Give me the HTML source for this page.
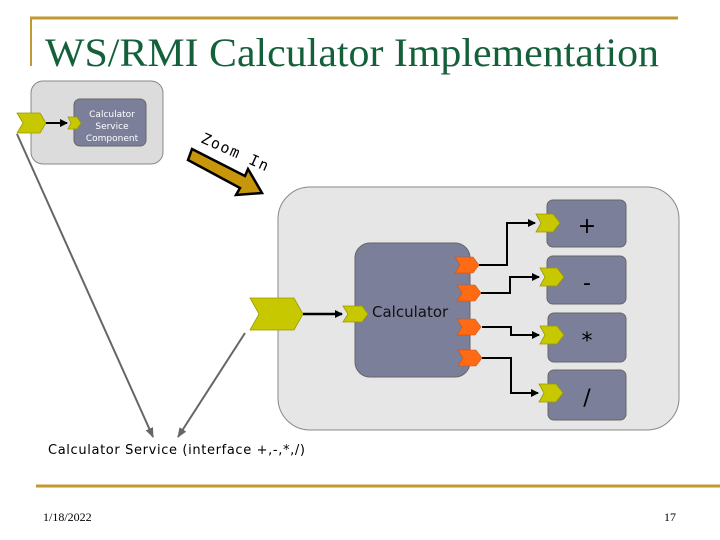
<!DOCTYPE html>
<html><head><meta charset="utf-8"><style>
html,body{margin:0;padding:0;background:#fff;}
svg{display:block;}
</style></head><body>
<svg width="720" height="540" viewBox="0 0 720 540" xmlns="http://www.w3.org/2000/svg">
<defs>
<marker id="ab" markerWidth="8" markerHeight="8" refX="7" refY="4" orient="auto" markerUnits="userSpaceOnUse"><path d="M0,0 L8,4 L0,8 z" fill="#000"/></marker>
<marker id="ag" markerWidth="10" markerHeight="10" refX="9" refY="5" orient="auto" markerUnits="userSpaceOnUse"><path d="M0,1 L10,5 L0,9 z" fill="#666"/></marker>
</defs>
<line x1="30" y1="18" x2="678" y2="18" stroke="#c09a30" stroke-width="3"/>
<line x1="31" y1="17" x2="31" y2="66" stroke="#c09a30" stroke-width="2"/>
<line x1="36" y1="486" x2="720" y2="486" stroke="#c09a30" stroke-width="3"/>
<text x="45" y="66" font-family="Liberation Serif, serif" font-size="40" fill="#14603a" textLength="614" lengthAdjust="spacingAndGlyphs">WS/RMI Calculator Implementation</text>
<text x="43" y="521" font-family="Liberation Serif, serif" font-size="12" fill="#000">1/18/2022</text>
<text x="664" y="521" font-family="Liberation Serif, serif" font-size="12" fill="#000">17</text>

<rect x="31" y="81" width="132" height="83" rx="12" fill="#dcdcdc" stroke="#888" stroke-width="1"/>
<rect x="74" y="99" width="72" height="47" rx="6" fill="#7c7f9a" stroke="#666"/>
<text font-family="DejaVu Sans, sans-serif" font-size="9" fill="#fff" text-anchor="middle"><tspan x="112" y="117">Calculator</tspan><tspan x="112" y="129">Service</tspan><tspan x="112" y="141">Component</tspan></text>
<polygon points="17,113 40,113 46,123 40,133 17,133 23,123" fill="#c8c800" stroke="#999900" stroke-width="0.8"/>
<line x1="46" y1="123" x2="67" y2="123" stroke="#000" stroke-width="2" marker-end="url(#ab)"/>
<polygon points="68,117 77,117 81,123 77,129 68,129 71,123" fill="#c8c800" stroke="#999900" stroke-width="0.8"/>

<text x="200" y="142" font-family="DejaVu Sans Mono, monospace" font-size="15" fill="#000" transform="rotate(24 200 142)" textLength="72">Zoom In</text>
<polygon points="192,149 245,176 248,169 262,193 236,195 240,188 188,160" fill="#c8960a" stroke="#000" stroke-width="2.5" stroke-linejoin="miter"/>

<rect x="278" y="187" width="401" height="243" rx="32" fill="#e6e6e6" stroke="#888" stroke-width="1"/>
<rect x="355" y="243" width="115" height="134" rx="15" fill="#7c7f9a" stroke="#666"/>
<text x="372" y="317" font-family="DejaVu Sans, sans-serif" font-size="15" fill="#111">Calculator</text>
<polygon points="250,298 294,298 303,314 294,330 250,330 259,314" fill="#c8c800" stroke="#999900" stroke-width="0.8"/>
<line x1="303" y1="314" x2="342" y2="314" stroke="#000" stroke-width="2.5" marker-end="url(#ab)"/>
<polygon points="343,306 362,306 368,314 362,322 343,322 348,314" fill="#c8c800" stroke="#999900" stroke-width="0.8"/>

<g fill="#7c7f9a" stroke="#666">
<rect x="547" y="200" width="79" height="47" rx="6"/>
<rect x="547" y="256" width="79" height="48" rx="6"/>
<rect x="548" y="313" width="78" height="49" rx="6"/>
<rect x="548" y="370" width="78" height="50" rx="6"/>
</g>
<g font-family="DejaVu Sans, sans-serif" font-size="22" fill="#000" text-anchor="middle">
<text x="587" y="233">+</text>
<text x="587" y="290">-</text>
<text x="587" y="348">*</text>
<text x="587" y="405">/</text>
</g>
<g fill="#ff6a14" stroke="#cc5010" stroke-width="0.6">
<polygon points="455,257 473,257 479,265 473,273 455,273 460,265"/>
<polygon points="457,285 475,285 481,293 475,301 457,301 462,293"/>
<polygon points="457,319 475,319 481,327 475,335 457,335 462,327"/>
<polygon points="458,350 476,350 482,358 476,366 458,366 463,358"/>
</g>
<g stroke="#000" stroke-width="2" fill="none">
<polyline points="479,265 507,265 507,223 535,223" marker-end="url(#ab)"/>
<polyline points="481,293 510,293 510,277 539,277" marker-end="url(#ab)"/>
<polyline points="482,327 511,327 511,335 539,335" marker-end="url(#ab)"/>
<polyline points="482,358 511,358 511,393 538,393" marker-end="url(#ab)"/>
</g>
<g fill="#c8c800" stroke="#999900" stroke-width="0.8">
<polygon points="536,214 553,214 560,223 553,232 536,232 541,223"/>
<polygon points="540,268 557,268 564,277 557,286 540,286 545,277"/>
<polygon points="540,326 557,326 564,335 557,344 540,344 545,335"/>
<polygon points="539,384 556,384 563,393 556,402 539,402 544,393"/>
</g>

<line x1="17" y1="134" x2="153" y2="437" stroke="#666" stroke-width="2" marker-end="url(#ag)"/>
<line x1="245" y1="333" x2="178" y2="437" stroke="#666" stroke-width="2" marker-end="url(#ag)"/>
<text x="48" y="454" font-family="DejaVu Sans, sans-serif" font-size="13" fill="#000" textLength="257">Calculator Service (interface +,-,*,/)</text>
</svg>
</body></html>
